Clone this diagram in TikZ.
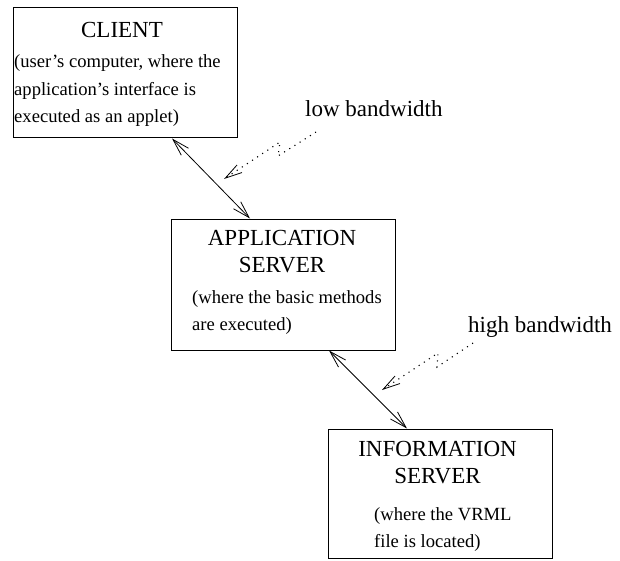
\documentclass[tikz,border=0pt]{standalone}
\usepackage{fontspec}
\setmainfont{Liberation Serif}
\usetikzlibrary{positioning, arrows.meta}

\begin{document}
\begin{tikzpicture}[x=1pt, y=-1pt,
		box/.style={rectangle, draw, line width=1pt, minimum width=224pt, inner sep=0pt},
		title/.style={anchor=base, inner sep=0pt, font=\fontsize{23}{23}\selectfont},
		note/.style={anchor=base west, inner sep=0pt, font=\fontsize{18.6}{18.6}\selectfont},
		bw/.style={anchor=base west, inner sep=0pt, font=\fontsize{23}{23}\selectfont},
		link/.style={{Straight Barb[length=17pt,width=10pt]}-{Straight Barb[length=17pt,width=10pt]}, line width=0.8pt},
		bolt/.style={-{Straight Barb[length=17pt,width=9pt,line width=0.8pt]}, line width=1.1pt, dash pattern=on 1.1pt off 5pt}]
		\useasboundingbox (0,0) rectangle (620,561);
		% client
		\node[box, minimum height=130pt] (client) at (125,73) {};
		\node[title] (clientT) at (122,38) {CLIENT};
		\node[note] (clientB1) at (14,68) {(user's computer, where the};
		\node[note] (clientB2) at (14,96) {application's interface is};
		\node[note] (clientB3) at (14,123) {executed as an applet)};
		% application server
		\node[box, minimum height=131pt] (app) at (283,284.5) {};
		\node[title] (appT1) at (282,245) {APPLICATION};
		\node[title] (appT2) at (282,272) {SERVER};
		\node[note] (appB1) at (192,303) {(where the basic methods};
		\node[note] (appB2) at (192,330) {are executed)};
		% information server
		\node[box, minimum height=129pt] (info) at (440,493.5) {};
		\node[title] (infoT1) at (437.5,456) {INFORMATION};
		\node[title] (infoT2) at (437.5,483) {SERVER};
		\node[note] (infoB1) at (374,520) {(where the VRML};
		\node[note] (infoB2) at (374,547) {file is located)};
		% bandwidth labels
		\node[bw] (lowbw) at (305,117) {low bandwidth};
		\node[bw] (highbw) at (468,332) {high bandwidth};
		% links between the machines
		\draw[link] ([xshift=47pt]client.south) -- ([xshift=-33pt]app.north);
		\draw[link] ([xshift=46pt]app.south) -- ([xshift=-33pt]info.north);
		% lightning arrows
		\coordinate (low1) at (316,132);
		\coordinate (low2) at (278,156);
		\coordinate (low3) at (280,142);
		\coordinate (low4) at (224,179);
		\draw[bolt] (low1) -- (low2) -- (low3) -- (low4);
		\coordinate (high1) at (473,343);
		\coordinate (high2) at (437,367);
		\coordinate (high3) at (438,353);
		\coordinate (high4) at (382,390);
		\draw[bolt] (high1) -- (high2) -- (high3) -- (high4);
\end{tikzpicture}
\end{document}
